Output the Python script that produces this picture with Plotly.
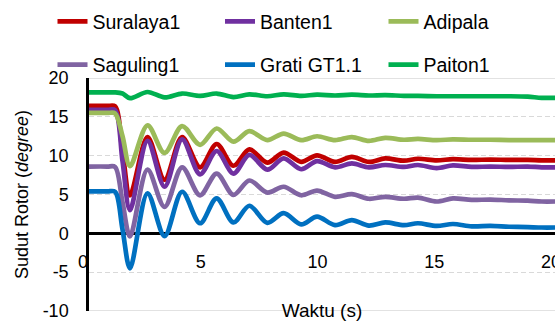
import plotly.graph_objects as go

# ---- data ----
time_s = [0.21, 1.0, 1.33, 1.65, 1.97, 2.72, 3.45, 4.2, 4.97, 5.68, 6.4, 7.08, 7.85, 8.55,
          9.3, 9.98, 10.75, 11.47, 12.2, 12.9, 13.7, 14.3, 15.1, 15.8, 16.6, 17.4, 18.2,
          19.0, 19.6, 20.2]

suralaya1 = [16.4, 16.4, 16.35, 10.5, 4.9, 12.4, 6.9, 12.4, 8.5, 11.5, 8.7, 10.8, 9.1, 10.4,
             9.2, 10.05, 9.2, 9.85, 9.2, 9.65, 9.35, 9.6, 9.4, 9.55, 9.45, 9.5, 9.45,
             9.45, 9.4, 9.4]
banten1 = [15.9, 15.9, 15.85, 9.3, 3.0, 11.9, 6.0, 12.1, 7.6, 10.6, 7.7, 10.1, 8.2, 9.65,
           8.25, 9.3, 8.5, 9.0, 8.5, 8.8, 8.55, 8.8, 8.4, 8.75, 8.55, 8.6, 8.55,
           8.6, 8.5, 8.5]
adipala = [15.5, 15.5, 15.45, 12.5, 8.65, 13.9, 10.35, 13.8, 11.4, 13.5, 11.8, 13.15, 12.0, 12.85,
           12.0, 12.5, 12.0, 12.4, 11.9, 12.3, 12.05, 12.15, 12.0, 12.1, 12.05, 12.05, 12.0,
           12.0, 12.0, 12.0]
saguling1 = [8.6, 8.6, 8.55, 4.0, -0.4, 8.2, 3.4, 8.5, 4.9, 7.7, 4.95, 6.8, 5.25, 6.0,
             4.9, 5.5, 4.7, 5.05, 4.45, 4.7, 4.45, 4.6, 4.1, 4.5, 4.3, 4.35, 4.25,
             4.2, 4.1, 4.1]
grati_gt11 = [5.4, 5.4, 5.35, 0.5, -4.5, 5.15, -0.35, 5.35, 1.3, 4.5, 1.4, 3.55, 1.35, 2.6,
              1.15, 2.15, 1.05, 1.7, 1.0, 1.4, 1.05, 1.3, 0.95, 1.2, 0.9, 0.95, 0.85,
              0.8, 0.75, 0.75]
paiton1 = [18.15, 18.15, 18.15, 18.0, 17.4, 18.2, 17.5, 18.0, 17.7, 18.0, 17.55, 17.9, 17.65, 17.9,
           17.7, 17.85, 17.75, 17.85, 17.75, 17.8, 17.7, 17.7, 17.65, 17.65, 17.65, 17.65, 17.65,
           17.6, 17.45, 17.45]

series_names = ["Suralaya1", "Banten1", "Adipala", "Saguling1", "Grati GT1.1", "Paiton1"]
series_values = [suralaya1, banten1, adipala, saguling1, grati_gt11, paiton1]
series_colors = ["#C00000", "#7030A0", "#9BBB59", "#8064A2", "#0070C0", "#00B050"]

x_tick_vals = [0, 5, 10, 15, 20]
x_tick_text = ["0", "5", "10", "15", "20"]
y_tick_vals = [-10, -5, 0, 5, 10, 15, 20]
y_tick_text = ["-10", "-5", "0", "5", "10", "15", "20"]

FONT = "Liberation Sans, Arial, sans-serif"

# legend grid: 3 columns x 2 rows (pixel layout of the reference legend)
legend_cols_px = [52.5, 220.0, 383.5]
legend_rows_px = [21.7, 65.0]

fig = go.Figure()
legend_layouts = {}
for i, (name, vals, col) in enumerate(zip(series_names, series_values, series_colors)):
    lg = "legend" if i == 0 else f"legend{i + 1}"
    fig.add_trace(go.Scatter(
        x=time_s, y=vals, name=name, mode="lines",
        line=dict(color=col, width=4.7, shape="spline", smoothing=0.9),
        legend=lg, showlegend=True,
    ))
    legend_layouts[lg] = dict(
        orientation="h", xref="container", yref="container",
        xanchor="left", yanchor="middle",
        x=legend_cols_px[i % 3] / 555, y=1 - legend_rows_px[i // 3] / 321,
        font=dict(family=FONT, size=19.5, color="#000000"),
        bgcolor="rgba(0,0,0,0)", borderwidth=0, visible=True,
    )

x_min, x_max = 0.214, 20.17
y_min, y_max = -10, 20

fig.update_layout(
    width=555, height=321, showlegend=True,
    margin=dict(l=89, r=0, t=78, b=10, autoexpand=False),
    paper_bgcolor="white", plot_bgcolor="white",
    font=dict(family=FONT, color="#000000"),
    **legend_layouts,
    xaxis=dict(
        range=[x_min, x_max], anchor="free", position=(0 - y_min) / (y_max - y_min),
        tickvals=x_tick_vals[1:], ticktext=x_tick_text[1:],
        ticks="outside", ticklen=11, tickcolor="rgba(0,0,0,0)",
        tickfont=dict(family=FONT, size=18, color="#000000"),
        ticklabeloverflow="allow",
        showline=True, linecolor="#000000", linewidth=2.5,
        showgrid=False, zeroline=False, layer="below traces",
        title=dict(text="Waktu (s)", font=dict(family=FONT, size=19, color="#000000"), standoff=34),
        automargin=False,
    ),
    yaxis=dict(
        range=[y_min, y_max], tickvals=y_tick_vals, ticktext=y_tick_text,
        ticks="outside", ticklen=14, tickcolor="rgba(0,0,0,0)",
        tickfont=dict(family=FONT, size=18, color="#000000"),
        ticklabeloverflow="allow",
        showline=True, linecolor="#000000", linewidth=2.5,
        showgrid=True, gridcolor="#D9D9D9", gridwidth=1.3, griddash="5px,3px",
        zeroline=False, layer="below traces",
        title=dict(text="Sudut Rotor (<i>degree</i>)", font=dict(family=FONT, size=18, color="#000000"), standoff=10),
        automargin=False,
    ),
    shapes=[
        dict(type="line", xref="paper", yref="y", x0=0, x1=1, y0=y_max, y1=y_max,
             line=dict(color="#D9D9D9", width=1.5), layer="below"),
        dict(type="line", xref="paper", yref="y", x0=0, x1=1, y0=y_min, y1=y_min,
             line=dict(color="#D9D9D9", width=1.5), layer="below"),
    ],
    annotations=[
        dict(text=x_tick_text[0], x=(x_tick_vals[0] - x_min) / (x_max - x_min) - 0.003, y=-3.7,
             xref="paper", yref="y",
             showarrow=False, font=dict(family=FONT, size=18, color="#000000"),
             xanchor="center", yanchor="middle"),
    ],
)

fig.write_html("out.html")
